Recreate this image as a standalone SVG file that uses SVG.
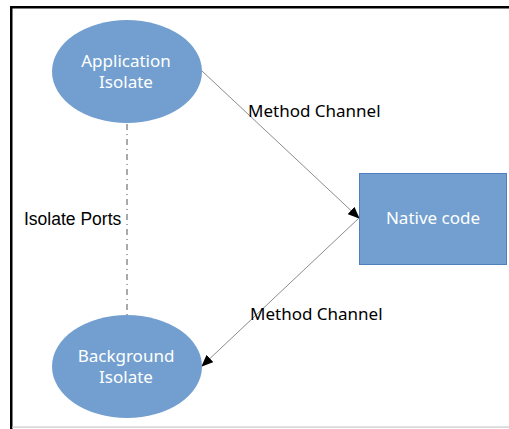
<svg xmlns="http://www.w3.org/2000/svg" width="509" height="429" viewBox="0 0 509 429">
<style>
.node{fill:#729fcf}
.lbl{font-family:"Noto Sans",sans-serif;font-size:17px;fill:#ffffff;text-anchor:middle}
.elbl{font-family:"Noto Sans",sans-serif;font-size:17px;fill:#000000}
.conn{stroke:#8c8c8c;stroke-width:1;fill:none}
</style>
<defs>
<marker id="arr" markerWidth="12" markerHeight="10" refX="11" refY="5" orient="auto" markerUnits="userSpaceOnUse">
<path d="M0,0 L12,5 L0,10 Z" fill="#000"/>
</marker>
</defs>
<rect x="0" y="0" width="509" height="429" fill="#ffffff"/>
<g id="frame">
<rect x="10" y="6" width="499" height="2.5" fill="#000"/>
<rect x="10" y="6" width="2.5" height="423" fill="#000"/>
<rect x="12" y="426.5" width="497" height="1.2" fill="#c8c8c8"/>
</g>
<g id="connectors">
<path class="conn" d="M202,71 L359,218" marker-end="url(#arr)"/>
<path class="conn" d="M359,218 L202,366" marker-end="url(#arr)"/>
<path d="M127,124 L127,315" stroke="#555" stroke-width="1" stroke-dasharray="6,4,1,4" fill="none"/>
<text class="elbl" x="248" y="117">Method Channel</text>
<text class="elbl" x="250" y="320">Method Channel</text>
<text x="24" y="225" font-family="Liberation Sans, Arial, sans-serif" font-size="17.5" fill="#000">Isolate Ports</text>
</g>
<g id="app">
<ellipse class="node" cx="127" cy="71.5" rx="75" ry="51.5"/>
<text class="lbl" x="126" y="66.5">Application</text>
<text class="lbl" x="126" y="88">Isolate</text>
</g>
<g id="native">
<rect class="node" x="359.5" y="173.5" width="147" height="91" stroke="#4f7fbd" stroke-width="1"/>
<text class="lbl" x="433" y="224">Native code</text>
</g>
<g id="bg">
<ellipse class="node" cx="127" cy="366.5" rx="75" ry="51.5"/>
<text class="lbl" x="126" y="361.5">Background</text>
<text class="lbl" x="126" y="383">Isolate</text>
</g>
</svg>
